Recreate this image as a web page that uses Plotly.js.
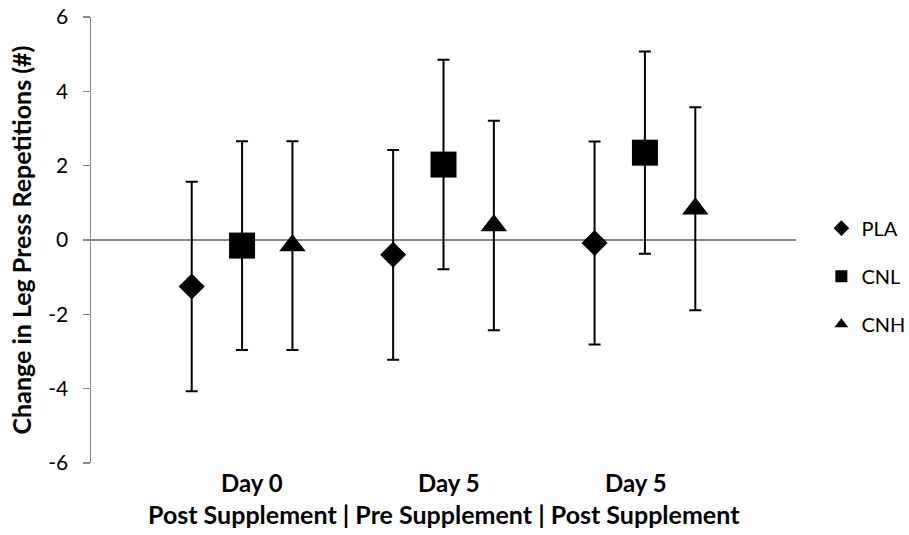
<!DOCTYPE html>
<html>
<head>
<meta charset="utf-8">
<script src="https://cdn.plot.ly/plotly-3.0.1.min.js"></script>
<style>html,body{margin:0;padding:0;background:#fff;}#chart{width:909px;height:535px;}</style>
</head>
<body>
<div id="chart"></div>
<script>
// Data
const groupNames = ["PLA", "CNL", "CNH"];
const groupSymbols = ["diamond", "square", "triangle-up"];
const groupOffsets = [-0.25, 0, 0.25];
const conditionIndex = [1, 2, 3];
const plaMeans = [-1.25, -0.40, -0.08];
const cnlMeans = [-0.15, 2.03, 2.35];
const cnhMeans = [-0.15, 0.39, 0.84];
const plaErr = [2.82, 2.82, 2.73];
const cnlErr = [2.81, 2.82, 2.72];
const cnhErr = [2.81, 2.82, 2.73];
const dayLabels = ["Day 0", "Day 5", "Day 5"];
const dayLabelPos = [1.047, 2.028, 2.957];
const phaseLabel = "Post Supplement | Pre Supplement | Post Supplement";
const yTitle = "Change in Leg Press Repetitions (#)";
const yTicks = [-6, -4, -2, 0, 2, 4, 6];

const means = [plaMeans, cnlMeans, cnhMeans];
const errs = [plaErr, cnlErr, cnhErr];
const sizes = [20, 26, 23];

const FONT = "Lato, 'Open Sans', sans-serif";

const traces = groupNames.map((name, g) => ({
  type: "scatter",
  mode: "markers",
  name: name,
  legendgroup: name,
  x: conditionIndex.map(c => c + groupOffsets[g]),
  y: means[g],
  marker: { symbol: groupSymbols[g], size: sizes[g], color: "#000000" },
  error_y: { type: "data", array: errs[g], visible: true, color: "#000000", thickness: 2, width: 6 },
  hoverinfo: "x+y"
}));

const annotations = dayLabels.map((t, i) => ({
  xref: "x", yref: "paper", x: dayLabelPos[i], y: 0, yshift: -19,
  text: "<b>" + t + "</b>", showarrow: false,
  font: { family: FONT, size: 24, color: "#000" }, xanchor: "center", yanchor: "middle"
}));
annotations.push({
  xref: "x", yref: "paper", x: 2, y: 0, yshift: -51,
  text: "<b>" + phaseLabel + "</b>", showarrow: false,
  font: { family: FONT, size: 25, color: "#000" }, xanchor: "center", yanchor: "middle"
});

const layout = {
  width: 909, height: 535,
  margin: { l: 91, r: 113, t: 17, b: 72, pad: 0, autoexpand: false },
  paper_bgcolor: "#ffffff", plot_bgcolor: "#ffffff",
  font: { family: FONT, size: 20, color: "#000" },
  showlegend: true,
  legend: {
    x: 1.036, xanchor: "left", y: 0.419, yanchor: "middle",
    font: { family: FONT, size: 20, color: "#000" },
    itemsizing: "constant", traceorder: "grouped", tracegroupgap: 19,
    bgcolor: "rgba(0,0,0,0)", borderwidth: 0
  },
  xaxis: {
    range: [0.25, 3.75], showgrid: false, zeroline: false, showline: false,
    showticklabels: false, ticks: "", fixedrange: true, automargin: false
  },
  yaxis: {
    range: [-6, 6], tickvals: yTicks, ticktext: yTicks.map(String),
    showgrid: false, zeroline: true, zerolinecolor: "#868686", zerolinewidth: 1.5,
    showline: true, linecolor: "#868686", linewidth: 1.5,
    ticks: "outside", ticklen: 7, tickcolor: "#868686", tickwidth: 1.5,
    tickfont: { family: FONT, size: 21, color: "#000" },
    ticklabelstandoff: 10, automargin: false,
    title: { text: "<b>" + yTitle + "</b>", font: { family: FONT, size: 25, color: "#000" }, standoff: 9 },
    fixedrange: true
  },
  annotations: annotations
};

Plotly.newPlot("chart", traces, layout, { displayModeBar: false, staticPlot: true });
</script>
</body>
</html>
